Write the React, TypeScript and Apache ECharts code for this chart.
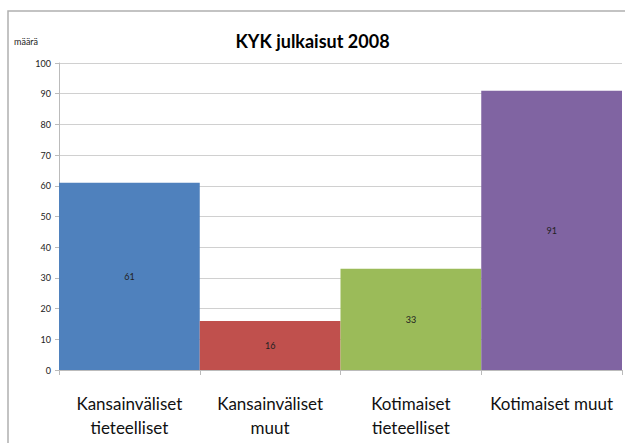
import React, { useEffect, useRef } from "react";
import * as echarts from "echarts";

const categories = [
  "Kansainväliset\ntieteelliset",
  "Kansainväliset\nmuut",
  "Kotimaiset\ntieteelliset",
  "Kotimaiset muut",
];
const values = [61, 16, 33, 91];
const colors = ["#4F81BD", "#C0504D", "#9BBB59", "#8064A2"];
const title = "KYK julkaisut 2008";
const yName = "määrä";

const FONT = "Lato, 'Open Sans', sans-serif";

export default function App() {
  const ref = useRef<HTMLDivElement>(null);
  useEffect(() => {
    if (!ref.current) return;
    const chart = echarts.init(ref.current, undefined, { renderer: "svg" });
    chart.setOption({
      animation: false,
      backgroundColor: "#ffffff",
      title: {
        text: title,
        left: "center",
        top: 27,
        textStyle: { fontFamily: FONT, fontSize: 18, fontWeight: "bold", color: "#000" },
      },
      graphic: [
        {
          type: "rect",
          shape: { x: 8, y: 11, width: 640, height: 460 },
          style: { fill: "none", stroke: "#b0b0b0", lineWidth: 1.5 },
          silent: true,
        },
        {
          type: "text",
          left: 14,
          top: 37,
          style: { text: yName, fontFamily: FONT, fontSize: 9, fill: "#222" },
        },
      ],
      grid: { left: 59, right: 3, top: 63, bottom: 73, containLabel: false },
      xAxis: {
        type: "category",
        data: categories,
        axisLine: { lineStyle: { color: "#bbbbbb" } },
        axisTick: { show: true, alignWithLabel: false, length: 5, lineStyle: { color: "#bbbbbb" } },
        axisLabel: {
          fontFamily: FONT,
          fontSize: 17,
          color: "#111",
          lineHeight: 24,
          margin: 21,
          interval: 0,
        },
      },
      yAxis: {
        type: "value",
        min: 0,
        max: 100,
        interval: 10,
        axisLine: { show: true, lineStyle: { color: "#bbbbbb" } },
        axisTick: { show: true, length: 4, lineStyle: { color: "#bbbbbb" } },
        axisLabel: { fontFamily: FONT, fontSize: 9, color: "#222", margin: 8 },
        splitLine: { lineStyle: { color: "#d0d0d0" } },
      },
      series: [
        {
          type: "bar",
          barCategoryGap: "0%",
          data: values.map((v, i) => ({ value: v, itemStyle: { color: colors[i] } })),
          label: {
            show: true,
            position: "inside",
            fontFamily: FONT,
            fontSize: 9,
            color: "#222",
          },
        },
      ],
    });
    return () => chart.dispose();
  }, []);
  return (
    <div
      ref={ref}
      style={{ position: "fixed", left: 0, top: 0, width: 625, height: 443 }}
    />
  );
}
